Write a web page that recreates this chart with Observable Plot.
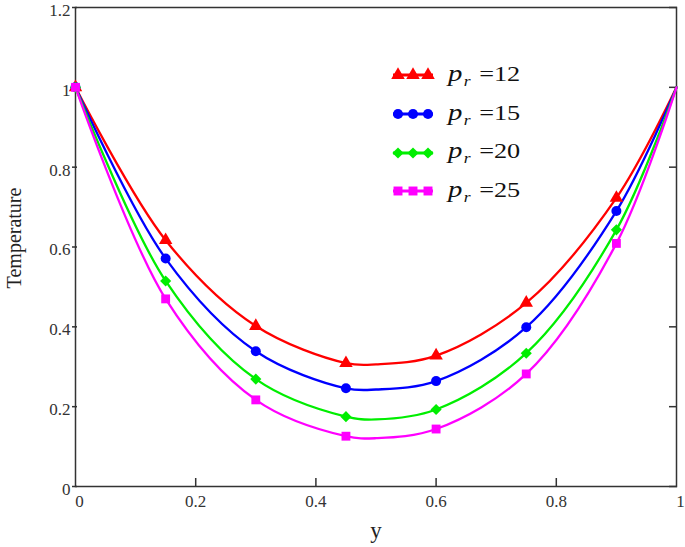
<!DOCTYPE html>
<html>
<head>
<meta charset="utf-8">
<script src="https://cdn.jsdelivr.net/npm/d3@7"></script>
<script src="https://cdn.jsdelivr.net/npm/@observablehq/plot@0.6"></script>
<style>
  html, body { margin: 0; padding: 0; background: #fff; }
  #wrap { position: relative; width: 685px; height: 547px; font-family: 'Liberation Serif', serif; }
  #legend { position: absolute; left: 391px; top: 56px; }
  .row { display: flex; align-items: center; height: 38.7px; }
  .lab { display: inline-block; font-family: 'Liberation Serif', serif; font-size: 21px; color: #111; margin-left: 13px; white-space: nowrap; transform: scaleX(1.25); transform-origin: left center; }
  .lab i { font-style: italic; font-size: 23px; }
  .lab sub { font-size: 14px; font-style: italic; vertical-align: -5px; margin-left: 1px; margin-right: 7px; }
</style>
</head>
<body>
<div id="wrap"></div>
<script>
// ---- data ----
const seriesNames = ["12", "15", "20", "25"];
const seriesColors = ["#ff0000", "#0000ff", "#00ee00", "#ff00ff"];
const seriesSymbols = ["triangle", "circle", "diamond2", "square"];

const markerX = [0, 0.15, 0.3, 0.45, 0.6, 0.75, 0.9];
const marker12 = [1, 0.617, 0.402, 0.309, 0.328, 0.460, 0.723];
const marker15 = [1, 0.571, 0.339, 0.246, 0.264, 0.399, 0.690];
const marker20 = [1, 0.515, 0.269, 0.175, 0.193, 0.334, 0.643];
const marker25 = [1, 0.470, 0.217, 0.126, 0.144, 0.282, 0.609];

const lineX = [0, 0.15, 0.3, 0.45, 0.5, 0.6, 0.75, 0.9, 1];
const line12 = [1, 0.617, 0.402, 0.309, 0.306, 0.328, 0.460, 0.723, 1];
const line15 = [1, 0.571, 0.339, 0.246, 0.243, 0.264, 0.399, 0.690, 1];
const line20 = [1, 0.515, 0.269, 0.175, 0.168, 0.193, 0.334, 0.643, 1];
const line25 = [1, 0.470, 0.217, 0.126, 0.121, 0.144, 0.282, 0.609, 1];

const xTicksInner = [0.2, 0.4, 0.6, 0.8];
const xTickFirst = [0];
const xTickLast = [1];
const yTicks = [0, 0.2, 0.4, 0.6, 0.8, 1, 1.2];

// ---- tables ----
const markerSets = [marker12, marker15, marker20, marker25];
const lineSets = [line12, line15, line20, line25];
const markers = markerSets.flatMap((vals, i) => vals.map((v, j) => ({x: markerX[j], y: v, s: seriesNames[i]})));
const lines = lineSets.flatMap((vals, i) => vals.map((v, j) => ({x: lineX[j], y: v, s: seriesNames[i]})));

const ink = "#333";
const serif = "'Liberation Serif', serif";
const noLabel = () => "";
const xLabelOpts = {tickSize: 0, tickPadding: 8, fill: ink, label: null, fontSize: 17, tickFormat: d => String(d)};
const chart = Plot.plot({
  width: 685,
  height: 547,
  marginLeft: 75,
  marginRight: 9,
  marginTop: 7,
  marginBottom: 61,
  style: {fontFamily: serif, fontSize: "17px", color: ink, background: "#fff"},
  x: {domain: [0, 1]},
  y: {domain: [0, 1.2], ticks: yTicks},
  color: {domain: seriesNames, range: seriesColors},
  symbol: {domain: seriesNames, range: seriesSymbols},
  marks: [
    Plot.frame({stroke: ink, strokeWidth: 1.5}),
    // x tick marks (inward) and labels
    Plot.axisX({ticks: xTicksInner, tickSize: -8, stroke: ink, strokeWidth: 1.5, label: null, tickFormat: noLabel}),
    Plot.axisX({...xLabelOpts, ticks: xTicksInner}),
    Plot.axisX({...xLabelOpts, ticks: xTickFirst, dx: 4}),
    Plot.axisX({...xLabelOpts, ticks: xTickLast, dx: 4}),
    // y tick marks and labels
    Plot.axisY({ticks: yTicks, tickSize: 5, dx: 2, stroke: ink, strokeWidth: 1.5, label: null, tickFormat: noLabel}),
    Plot.axisY({ticks: yTicks, tickSize: 0, tickPadding: 5, dy: 3, fill: ink, label: null, fontSize: 17, tickFormat: d => String(d)}),
    Plot.axisY({anchor: "right", ticks: yTicks, tickSize: -8, stroke: ink, strokeWidth: 1.5, label: null, tickFormat: noLabel}),
    // data
    Plot.line(lines, {x: "x", y: "y", z: "s", stroke: "s", strokeWidth: 2.3, curve: "catmull-rom"}),
    Plot.dot(markers, {x: "x", y: "y", fill: "s", symbol: "s", r: 5, stroke: null}),
    Plot.text(["Temperature"], {frameAnchor: "left", dx: -61, dy: -9, rotate: -90, textAnchor: "middle", text: d => d, fontSize: 20, fill: "#222"}),
    Plot.text(["y"], {frameAnchor: "bottom", dy: 51, text: d => d, fontSize: 23, fill: "#222"})
  ]
});

// force serif font and size on tick labels
d3.select(chart).selectAll("text").style("font-family", serif);
d3.select(chart).selectAll("g[aria-label$='tick label']").style("font-size", "17px")
  .selectAll("text").style("font-size", "17px");

const wrap = document.getElementById("wrap");
wrap.appendChild(chart);

// ---- legend ----
const legend = document.createElement("div");
legend.id = "legend";
const symMap = {triangle: d3.symbolTriangle, circle: d3.symbolCircle, diamond2: d3.symbolDiamond2, square: d3.symbolSquare};
seriesNames.forEach((name, i) => {
  const row = document.createElement("div");
  row.className = "row";
  const svg = d3.create("svg").attr("width", 44).attr("height", 16);
  svg.append("line").attr("x1", 2).attr("x2", 42).attr("y1", 8).attr("y2", 8)
    .attr("stroke", seriesColors[i]).attr("stroke-width", 3);
  [7, 22, 37].forEach(cx => {
    svg.append("path").attr("d", d3.symbol(symMap[seriesSymbols[i]], 80)())
      .attr("transform", `translate(${cx},8)`).attr("fill", seriesColors[i]);
  });
  row.appendChild(svg.node());
  const lab = document.createElement("span");
  lab.className = "lab";
  lab.innerHTML = `<i>p</i><sub>r</sub>=${name}`;
  row.appendChild(lab);
  legend.appendChild(row);
});
wrap.appendChild(legend);
</script>
</body>
</html>
